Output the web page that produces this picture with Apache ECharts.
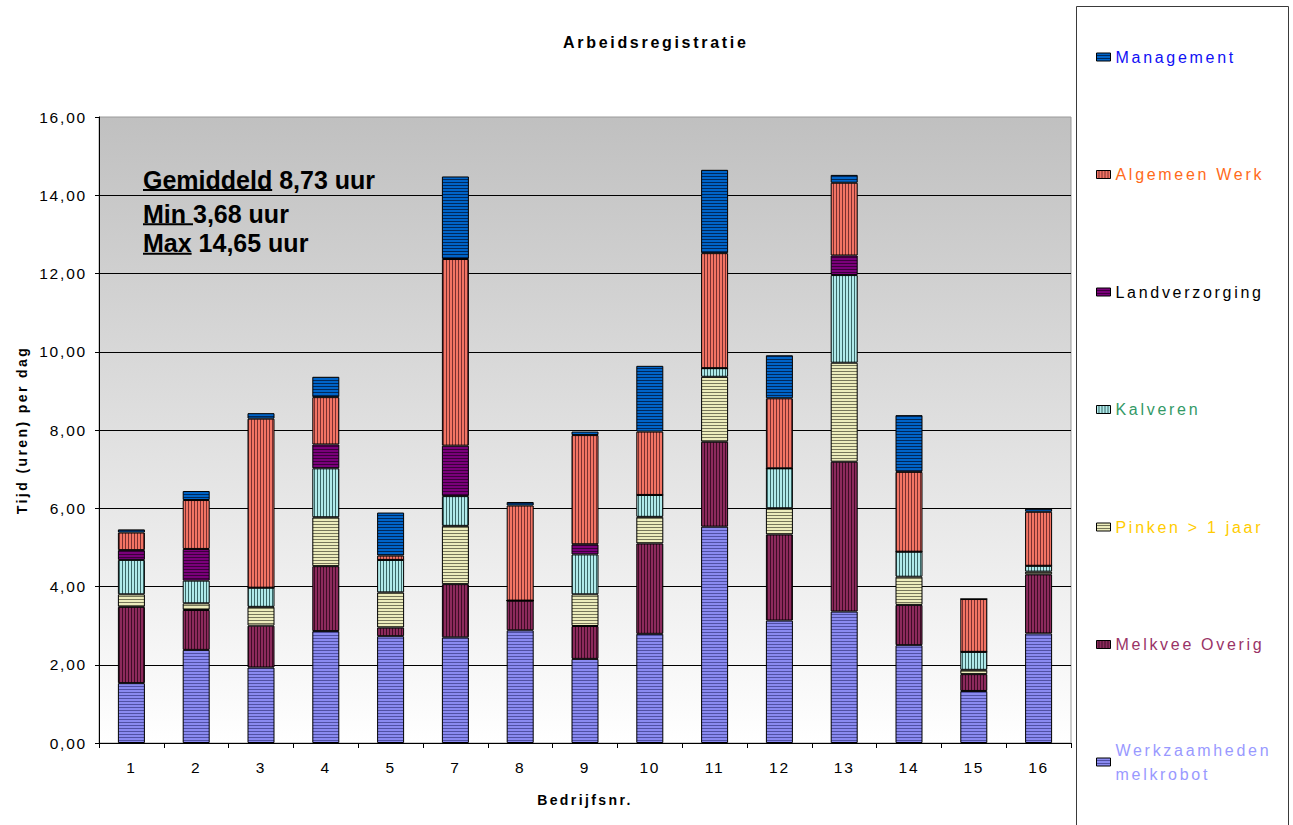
<!DOCTYPE html>
<html>
<head>
<meta charset="utf-8">
<title>Arbeidsregistratie</title>
<script src="https://cdn.jsdelivr.net/npm/echarts@6/dist/echarts.min.js"></script>
<style>
  html, body { margin: 0; padding: 0; background: #fff; }
  #chart { width: 1293px; height: 825px; }
</style>
</head>
<body>
<div id="chart"></div>
<script>
// Bedrijfsnummers (nr. 6 ontbreekt)
const categories = ['1', '2', '3', '4', '5', '7', '8', '9', '10', '11', '12', '13', '14', '15', '16'];

// Uren per dag per activiteit
const werkzaamhedenMelkrobot = [1.53, 2.38, 1.93, 2.86, 2.73, 2.70, 2.88, 2.15, 2.79, 5.53, 3.13, 3.36, 2.50, 1.33, 2.80];
const melkveeOverig          = [1.95, 1.02, 1.07, 1.66, 0.22, 1.36, 0.76, 0.84, 2.31, 2.17, 2.20, 3.83, 1.03, 0.43, 1.51];
const pinken                 = [0.32, 0.17, 0.48, 1.25, 0.90, 1.49, 0.00, 0.81, 0.68, 1.66, 0.67, 2.53, 0.72, 0.11, 0.07];
const kalveren               = [0.88, 0.58, 0.49, 1.25, 0.83, 0.76, 0.00, 1.02, 0.56, 0.22, 1.02, 2.24, 0.64, 0.46, 0.15];
const landverzorging         = [0.25, 0.81, 0.00, 0.61, 0.00, 1.29, 0.00, 0.26, 0.00, 0.00, 0.00, 0.50, 0.00, 0.00, 0.00];
const algemeenWerk           = [0.45, 1.25, 4.32, 1.21, 0.11, 4.77, 2.43, 2.79, 1.62, 2.94, 1.79, 1.86, 2.04, 1.35, 1.38];
const management             = [0.08, 0.23, 0.14, 0.52, 1.10, 2.11, 0.09, 0.09, 1.68, 2.13, 1.10, 0.20, 1.45, 0.00, 0.08];

const seriesNames = ['Werkzaamheden melkrobot', 'Melkvee Overig', 'Pinken > 1 jaar', 'Kalveren',
                     'Landverzorging', 'Algemeen Werk', 'Management'];
const seriesValues = [werkzaamhedenMelkrobot, melkveeOverig, pinken, kalveren,
                      landverzorging, algemeenWerk, management];

const titleText = 'Arbeidsregistratie';
const yName = 'Tijd (uren) per dag';
const xName = 'Bedrijfsnr.';

const FONT = '"Liberation Sans", Arial, Helvetica, sans-serif';
const fmt = v => v.toFixed(2).replace('.', ',');

// Totals per bedrijf for the summary lines
const totals = categories.map((_, i) => seriesValues.reduce((s, arr) => s + arr[i], 0));
const avg = totals.reduce((a, b) => a + b, 0) / totals.length;
const minTotal = Math.min(...totals);
const maxTotal = Math.max(...totals);

// Striped fills, like the hatched Excel patterns
function stripes(light, dark, dir) {
  const c = document.createElement('canvas');
  c.width = 3; c.height = 3;
  const g = c.getContext('2d');
  g.fillStyle = light; g.fillRect(0, 0, 3, 3);
  g.fillStyle = dark;
  if (dir === 'h') g.fillRect(0, 2, 3, 1); else g.fillRect(2, 0, 1, 3);
  return { image: c, repeat: 'repeat', imageWidth: 3, imageHeight: 3 };
}
const fills = [
  stripes('#8a8af0', '#5050a4', 'h'),   // Werkzaamheden melkrobot
  stripes('#8c2a5c', '#3e0c26', 'v'),   // Melkvee Overig
  stripes('#ececbc', '#76765a', 'h'),   // Pinken > 1 jaar
  stripes('#b0eaea', '#3a6868', 'v'),   // Kalveren
  stripes('#7a007a', '#3a003a', 'h'),   // Landverzorging
  stripes('#f27464', '#7a3030', 'v'),   // Algemeen Werk
  stripes('#0064c8', '#00285a', 'h')    // Management
];
const legendColors = {
  'Management': '#1010f5',
  'Algemeen Werk': '#ff6a1a',
  'Landverzorging': '#000000',
  'Kalveren': '#339966',
  'Pinken > 1 jaar': '#ffcc00',
  'Melkvee Overig': '#993366',
  'Werkzaamheden melkrobot': '#9999ff'
};

const series = seriesNames.map((name, i) => ({
  name: name,
  type: 'bar',
  stack: 'uren',
  barWidth: 27,
  data: seriesValues[i],
  itemStyle: { color: fills[i], borderColor: '#000', borderWidth: 1 },
  emphasis: { disabled: true }
}));

// Summary lines with underlined captions
const mctx = document.createElement('canvas').getContext('2d');
const annFont = 'bold 25px "Liberation Sans", Arial, sans-serif';
mctx.font = annFont;
const annLines = [
  { cap: 'Gemiddeld', val: fmt(avg) + ' uur', y: 179.5, gap: true },
  { cap: 'Min ', val: fmt(minTotal) + ' uur', y: 213.8, gap: false },
  { cap: 'Max', val: fmt(maxTotal) + ' uur', y: 243.3, gap: true }
];
const annX = 143;
const spaceW = mctx.measureText(' ').width;
const graphics = [
  {
    type: 'rect', z: 0,
    shape: { x: 1076.5, y: 6.5, width: 212, height: 840 },
    style: { fill: '#ffffff', stroke: '#3a3a3a', lineWidth: 1 }
  }
];
annLines.forEach(l => {
  const capW = mctx.measureText(l.cap).width;
  graphics.push({
    type: 'text', x: annX, y: l.y, z: 10,
    style: { text: l.cap, font: annFont, fill: '#000', verticalAlign: 'middle' }
  });
  graphics.push({
    type: 'line', z: 10,
    shape: { x1: annX, y1: l.y + 10.5, x2: annX + capW, y2: l.y + 10.5 },
    style: { stroke: '#000', lineWidth: 2 }
  });
  graphics.push({
    type: 'text', x: annX + capW + (l.gap ? spaceW : 0), y: l.y, z: 10,
    style: { text: l.val, font: annFont, fill: '#000', verticalAlign: 'middle' }
  });
});

const chart = echarts.init(document.getElementById('chart'), null, { renderer: 'svg', width: 1293, height: 825 });

// Every legend entry gets the same 72px box with the marker in its middle,
// so the two-line entry keeps its first line level with its marker.
const option = {
  animation: false,
  backgroundColor: '#ffffff',
  title: {
    text: titleText,
    left: 563, top: 34, padding: 0,
    textStyle: { fontFamily: FONT, fontSize: 16, fontWeight: 'bold', color: '#000' }
  },
  grid: {
    left: 99, right: 222, top: 117, bottom: 82,
    show: true,
    backgroundColor: new echarts.graphic.LinearGradient(0, 0, 0, 1, [
      { offset: 0, color: '#c0c0c0' },
      { offset: 1, color: '#ffffff' }
    ]),
    borderColor: '#9a9a9a',
    borderWidth: 1
  },
  legend: {
    orient: 'vertical',
    left: 1096, top: 21,
    padding: 0,
    icon: 'rect',
    itemWidth: 14, itemHeight: 8,
    itemGap: 45.5,
    selectedMode: false,
    itemStyle: { borderColor: '#000', borderWidth: 1 },
    textStyle: { fontFamily: FONT, fontSize: 16, lineHeight: 24, width: 165, overflow: 'break' },
    data: seriesNames.slice().reverse().map(n => ({
      name: n,
      textStyle: n === 'Werkzaamheden melkrobot'
        ? { color: legendColors[n], padding: [24, 0, 0, 0] }
        : { color: legendColors[n], padding: [24, 0, 24, 0] }
    }))
  },
  xAxis: {
    type: 'category',
    data: categories,
    name: xName,
    nameLocation: 'middle',
    nameGap: 50,
    nameTextStyle: { fontFamily: FONT, fontSize: 14, fontWeight: 'bold', color: '#000' },
    axisLine: { lineStyle: { color: '#000', width: 1 } },
    axisTick: { show: true, length: 5, lineStyle: { color: '#000' } },
    axisLabel: { fontFamily: FONT, fontSize: 15.5, color: '#000', margin: 16 },
    splitLine: { show: false }
  },
  yAxis: {
    type: 'value',
    min: 0, max: 16, interval: 2,
    name: yName,
    nameLocation: 'middle',
    nameGap: 70,
    nameTextStyle: { fontFamily: FONT, fontSize: 14, fontWeight: 'bold', color: '#000' },
    axisLine: { show: true, lineStyle: { color: '#000', width: 1 } },
    axisTick: { show: true, length: 4, lineStyle: { color: '#000' } },
    axisLabel: { fontFamily: FONT, fontSize: 15.5, color: '#000', margin: 12, formatter: v => fmt(v) },
    splitLine: { show: true, showMaxLine: false, lineStyle: { color: '#000', width: 1 } }
  },
  graphic: graphics,
  series: series
};

chart.setOption(option);

// Wider letter spacing of the chart texts
const yTickLabels = [];
for (let v = 0; v <= 16; v += 2) yTickLabels.push(fmt(v));
function applySpacing() {
  document.querySelectorAll('#chart text').forEach(t => {
    const s = (t.textContent || '').trim();
    if (!s) return;
    let sp = null;
    if (yTickLabels.includes(s) || categories.includes(s)) sp = 1.8;
    else if (s === titleText) sp = 2.7;
    else if (s === yName || s === xName) sp = 2.4;
    else if (seriesNames.some(n => n.includes(s))) sp = 2.7;
    if (sp != null) t.style.letterSpacing = sp + 'px';
  });
}
applySpacing();
chart.on('finished', applySpacing);
</script>
</body>
</html>
